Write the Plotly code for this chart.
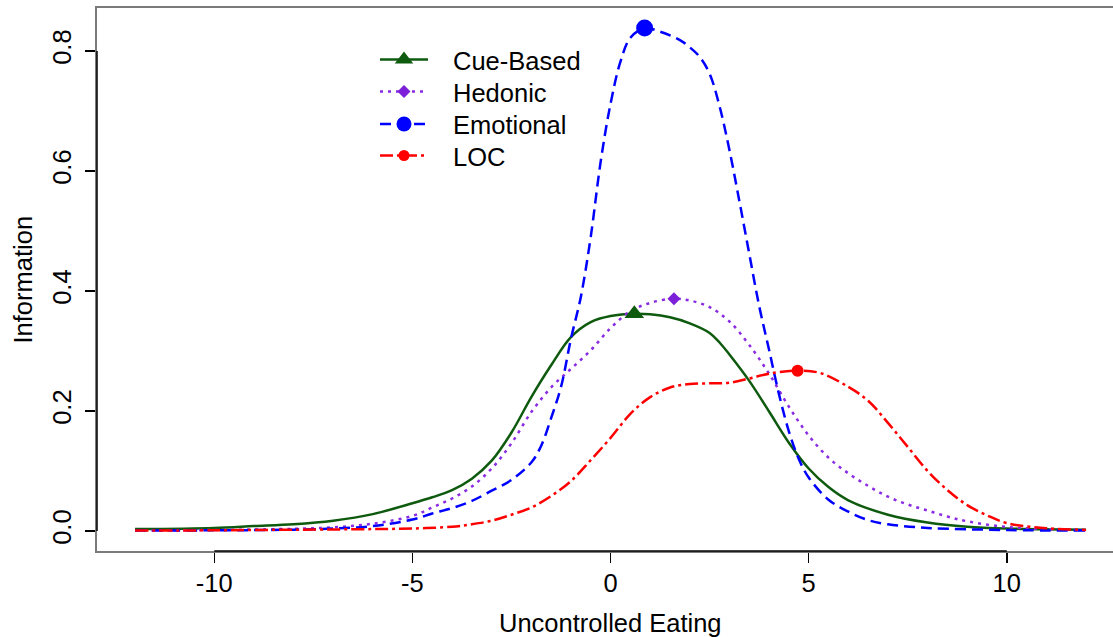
import plotly.graph_objects as go

# ---------------- data ----------------
cue_x = [-12, -10, -9, -8, -7, -6, -5, -4.5, -4, -3.5, -3, -2.5, -2, -1.5, -1, -0.5, 0, 0.6, 1, 1.5, 2, 2.5, 2.75, 3, 3.5, 4, 4.5, 5, 5.5, 6, 7, 8, 9, 10, 12]
cue_y = [0.003, 0.005, 0.008, 0.011, 0.017, 0.028, 0.046, 0.056, 0.068, 0.087, 0.117, 0.164, 0.223, 0.276, 0.323, 0.348, 0.358, 0.362, 0.361, 0.356, 0.346, 0.33, 0.314, 0.294, 0.25, 0.199, 0.147, 0.104, 0.073, 0.051, 0.027, 0.014, 0.007, 0.004, 0.002]

hed_x = [-12, -10, -8, -7, -6, -5, -4.5, -4, -3.5, -3, -2.5, -2, -1.5, -1, -0.5, 0, 0.5, 1, 1.6, 2, 2.5, 3, 3.5, 4, 4.5, 5, 5.5, 6, 6.5, 7, 7.5, 8, 8.5, 9, 10, 11, 12]
hed_y = [0.0005, 0.0015, 0.0035, 0.006, 0.012, 0.025, 0.039, 0.054, 0.074, 0.104, 0.146, 0.198, 0.239, 0.27, 0.301, 0.338, 0.366, 0.38, 0.387, 0.384, 0.373, 0.349, 0.31, 0.262, 0.207, 0.159, 0.122, 0.096, 0.075, 0.057, 0.044, 0.034, 0.024, 0.016, 0.0065, 0.003, 0.0015]

emo_x = [-12, -10, -8, -7, -6, -5, -4.5, -4, -3.5, -3, -2.5, -2, -1.75, -1.5, -1.25, -1, -0.75, -0.5, -0.25, 0, 0.25, 0.5, 0.86, 1.25, 1.75, 2, 2.25, 2.5, 2.75, 3, 3.25, 3.5, 3.75, 4, 4.25, 4.5, 4.75, 5, 5.5, 6, 6.5, 7, 8, 10, 12]
emo_y = [0.0005, 0.001, 0.002, 0.004, 0.008, 0.019, 0.029, 0.038, 0.05, 0.067, 0.085, 0.114, 0.142, 0.188, 0.24, 0.32, 0.39, 0.49, 0.615, 0.712, 0.782, 0.822, 0.838, 0.832, 0.818, 0.806, 0.79, 0.762, 0.708, 0.635, 0.55, 0.462, 0.375, 0.302, 0.228, 0.166, 0.12, 0.089, 0.052, 0.032, 0.018, 0.011, 0.005, 0.0015, 0.0005]

loc_x = [-12, -10, -8, -6, -5, -4, -3.5, -3, -2.5, -2, -1.5, -1, -0.5, 0, 0.5, 1, 1.5, 2, 2.5, 3, 3.5, 4, 4.7, 5.3, 6, 6.5, 7, 7.5, 8, 8.5, 9, 9.5, 10, 11, 12]
loc_y = [0.0005, 0.001, 0.002, 0.003, 0.004, 0.007, 0.011, 0.017, 0.027, 0.039, 0.058, 0.083, 0.118, 0.155, 0.195, 0.223, 0.239, 0.245, 0.246, 0.247, 0.254, 0.262, 0.267, 0.263, 0.24, 0.217, 0.18, 0.14, 0.1, 0.068, 0.043, 0.026, 0.013, 0.0045, 0.0017]

series_names = ["Cue-Based", "Hedonic", "Emotional", "LOC"]
peak_x = [0.6, 1.6, 0.86, 4.72]
peak_y = [0.362, 0.387, 0.838, 0.267]

x_ticks = [-10, -5, 0, 5, 10]
x_tick_text = ["-10", "-5", "0", "5", "10"]
y_ticks = [0.0, 0.2, 0.4, 0.6, 0.8]
y_tick_text = ["0.0", "0.2", "0.4", "0.6", "0.8"]

x_title = "Uncontrolled Eating"
y_title = "Information"

# ---------------- styles ----------------
colors = ["#0e5a0e", "#8a2be2", "#0000ff", "#ff0000"]
marker_colors = ["#0e5a0e", "#7b1fd8", "#0000ff", "#ff0000"]
dashes = ["solid", "3px,5px", "11px,6px", "13px,4px,3px,4px"]
symbols = ["triangle-up", "diamond", "circle", "circle"]
msizes = [17, 10, 17, 12]
leg_msizes = [16, 10, 15, 11]
xs = [cue_x, hed_x, emo_x, loc_x]
ys = [cue_y, hed_y, emo_y, loc_y]

FONT = "Liberation Sans, Arial, Helvetica, sans-serif"
FS = 25.5
W, H = 1113, 637
L, T, B = 97, 8, 86          # plot area: x 97..1113, y 8..551 (page pixels)

fig = go.Figure()

for i in range(4):
    fig.add_trace(go.Scatter(
        x=xs[i], y=ys[i], mode="lines",
        line=dict(color=colors[i], width=2.5, dash=dashes[i], shape="spline", smoothing=1.0),
        showlegend=False, hoverinfo="skip"))
for i in range(4):
    fig.add_trace(go.Scatter(
        x=[peak_x[i]], y=[peak_y[i]], mode="markers",
        marker=dict(color=marker_colors[i], symbol=symbols[i], size=msizes[i], line=dict(width=0)),
        showlegend=False, hoverinfo="skip"))

# ---- manual R-style legend on an overlay axis measured in page pixels ----
leg_rows = [59.5, 91.5, 124, 155.5]
leg_x0, leg_x1, leg_text_x = 380, 428, 451
for i in range(4):
    fig.add_trace(go.Scatter(
        x=[leg_x0, leg_x1], y=[leg_rows[i], leg_rows[i]], xaxis="x2", yaxis="y2",
        mode="lines", line=dict(color=colors[i], width=2.5, dash=dashes[i]),
        showlegend=False, hoverinfo="skip"))
    fig.add_trace(go.Scatter(
        x=[(leg_x0 + leg_x1) / 2], y=[leg_rows[i]], xaxis="x2", yaxis="y2",
        mode="markers", marker=dict(color=marker_colors[i], symbol=symbols[i], size=leg_msizes[i], line=dict(width=0)),
        showlegend=False, hoverinfo="skip"))
    fig.add_annotation(text=series_names[i], xref="x2", yref="y2", x=leg_text_x, y=leg_rows[i] + 1,
                       xanchor="left", yanchor="middle", showarrow=False,
                       font=dict(size=FS, family=FONT, color="black"))

fig.update_layout(
    width=W, height=H,
    margin=dict(l=L, r=0, t=T, b=B, autoexpand=False),
    paper_bgcolor="white", plot_bgcolor="white",
    font=dict(family=FONT, size=FS, color="black"),
    showlegend=False,
    xaxis=dict(range=[-12.96, 12.68], showgrid=False, zeroline=False,
               showline=True, mirror=True, linecolor="#7a7a7a", linewidth=2,
               tickmode="array", tickvals=x_ticks, ticktext=x_tick_text, ticks="outside", ticklen=10,
               tickwidth=1.5, tickcolor="black", ticklabelstandoff=-2,
               tickfont=dict(size=FS, family=FONT)),
    yaxis=dict(range=[-0.0335, 0.8715], showgrid=False, zeroline=False,
               showline=True, mirror=False, linecolor="#7a7a7a", linewidth=2,
               tickmode="array", tickvals=y_ticks, ticktext=y_tick_text, ticks="outside",
               ticklen=10, tickwidth=1.5, tickcolor="black", tickangle=-90,
               ticklabelstandoff=4, tickfont=dict(size=FS, family=FONT)),
    xaxis2=dict(overlaying="x", anchor="y2", range=[L, W], visible=False, fixedrange=True),
    yaxis2=dict(overlaying="y", anchor="x2", range=[H - B, T], visible=False, fixedrange=True),
)

# R-style axis lines spanning first to last tick
fig.add_shape(type="line", xref="x", yref="paper", x0=x_ticks[0], x1=x_ticks[-1], y0=0, y1=0,
              line=dict(color="black", width=1.5))
fig.add_shape(type="line", xref="paper", yref="y", x0=0, x1=0, y0=y_ticks[0], y1=y_ticks[-1],
              line=dict(color="black", width=1.5))

fig.add_annotation(text=x_title, xref="x", yref="paper", x=0, y=0,
                   yanchor="middle", yshift=-(623 - (H - B)), showarrow=False,
                   font=dict(size=FS, family=FONT))
fig.add_annotation(text=y_title, xref="paper", yref="paper", x=0, y=0.5,
                   xanchor="center", xshift=-(L - 22), textangle=-90, showarrow=False,
                   font=dict(size=FS, family=FONT))

fig.write_html("out.html", config={"displayModeBar": False, "staticPlot": True},
               post_script="document.body.style.margin='0';document.body.style.overflow='hidden';")
